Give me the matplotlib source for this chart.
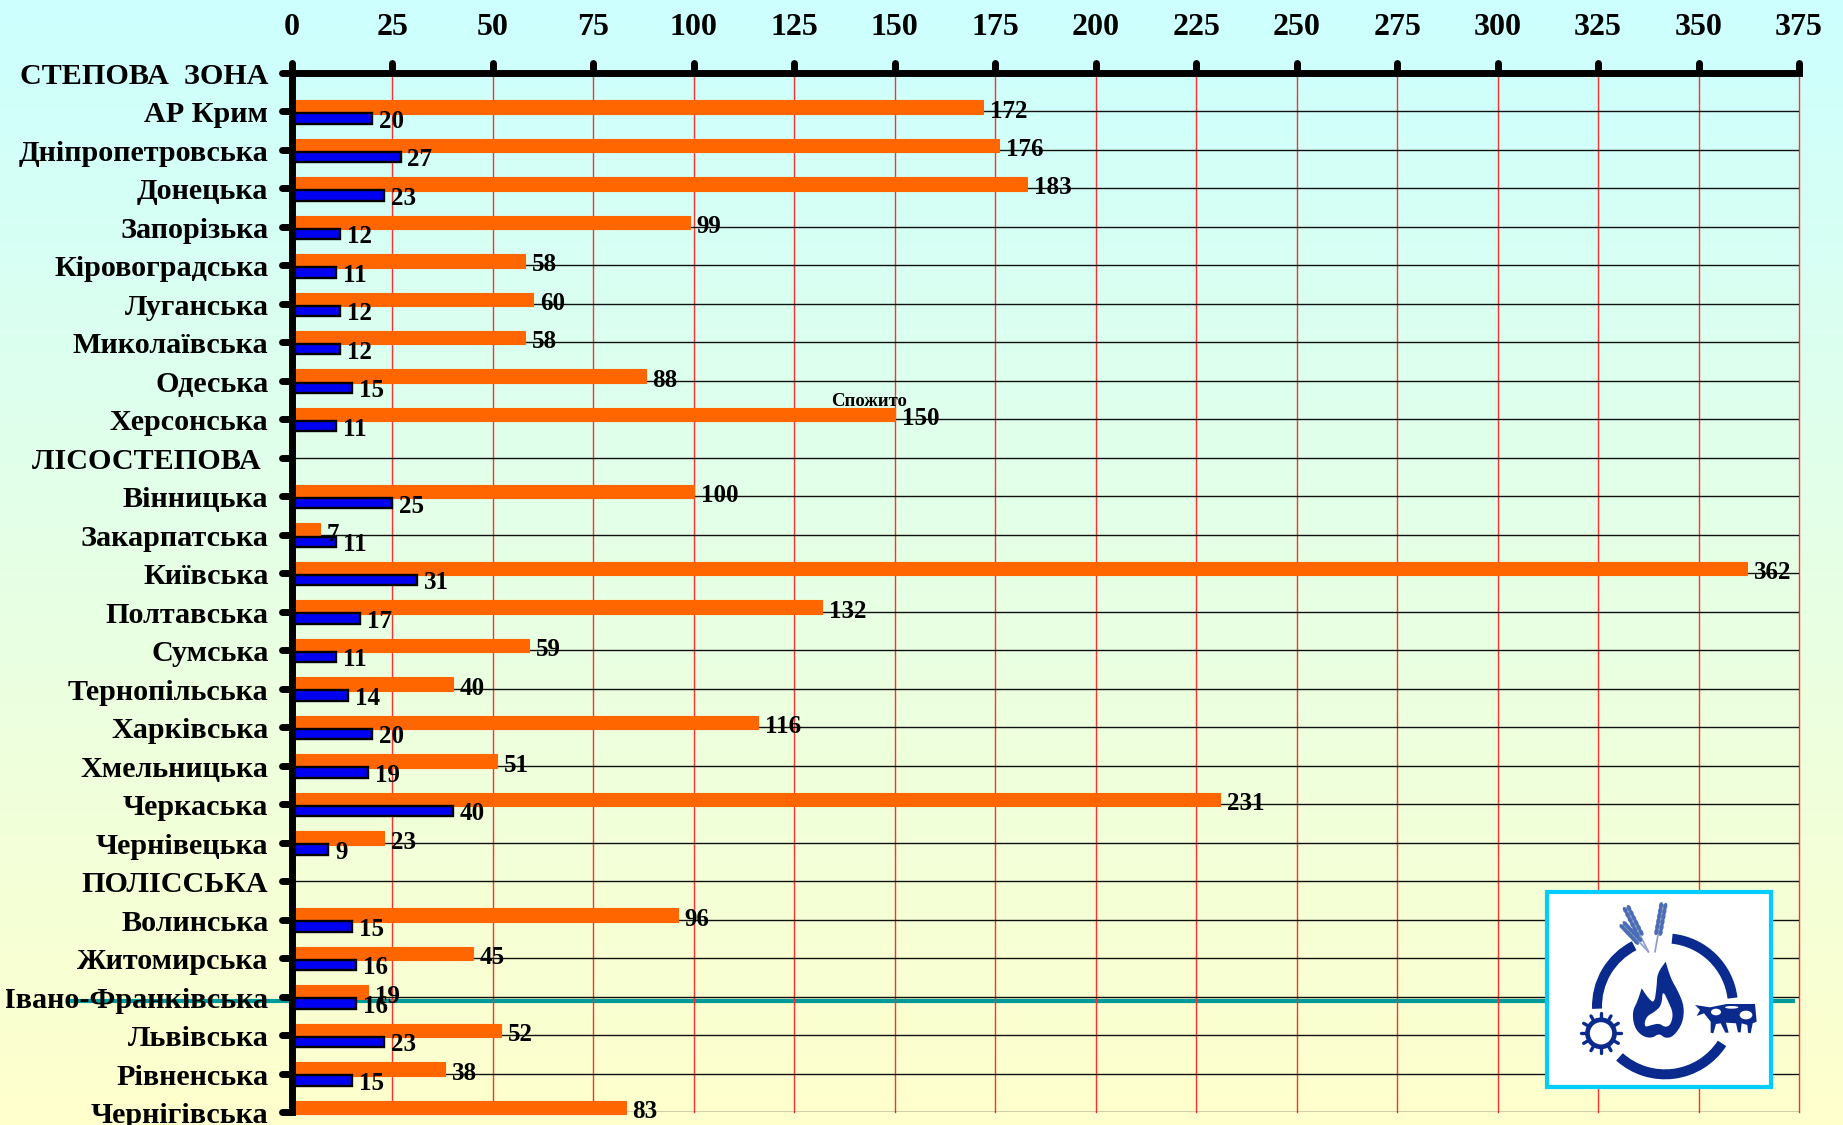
import numpy as np
import matplotlib
matplotlib.use("Agg")
import matplotlib.pyplot as plt
from matplotlib.markers import MarkerStyle, TICKLEFT, TICKUP
from matplotlib.patches import Circle, Ellipse, PathPatch, Polygon, Rectangle, Wedge
from matplotlib.path import Path
from matplotlib.transforms import Bbox, IdentityTransform, ScaledTranslation, TransformedBbox

FW, FH = 1843, 1125

regions = [
    "СТЕПОВА  ЗОНА", "АР Крим", "Дніпропетровська", "Донецька", "Запорізька",
    "Кіровоградська", "Луганська", "Миколаївська", "Одеська", "Херсонська",
    "ЛІСОСТЕПОВА ", "Вінницька", "Закарпатська", "Київська", "Полтавська",
    "Сумська", "Тернопільська", "Харківська", "Хмельницька", "Черкаська",
    "Чернівецька", "ПОЛІССЬКА", "Волинська", "Житомирська", "Івано-Франківська",
    "Львівська", "Рівненська", "Чернігівська",
]
consumed = [
    None, 172, 176, 183, 99, 58, 60, 58, 88, 150,
    None, 100, 7, 362, 132, 59, 40, 116, 51, 231, 23,
    None, 96, 45, 19, 52, 38, 83,
]
second = [
    None, 20, 27, 23, 12, 11, 12, 12, 15, 11,
    None, 25, 11, 31, 17, 11, 14, 20, 19, 40, 9,
    None, 15, 16, 16, 23, 15, None,
]
x_ticks = list(range(0, 376, 25))

ORANGE = "#FF6600"
BLUE = "#0000F0"
NAVY = "#0A2A8E"
SERIF = "Liberation Serif"

fig = plt.figure(figsize=(FW / 100, FH / 100), dpi=100)

# Page background: vertical fade from pale cyan to pale yellow
bg = fig.add_axes([0, 0, 1, 1], zorder=0)
bg.axis("off")
top, bottom = np.array([0.80, 1.0, 1.0]), np.array([1.0, 1.0, 0.80])
fade = np.linspace(0, 1, 256)[:, None, None]
bg.imshow(top * (1 - fade) + bottom * fade, aspect="auto", extent=(0, 1, 0, 1))

# Plot area
L, R, T, B = 292, 1799, 73, 1112
ax = fig.add_axes([L / FW, 1 - B / FH, (R - L) / FW, (B - T) / FH], zorder=1)
ax.patch.set_alpha(0)
ax.set_xlim(0, 375)
ax.set_ylim(27, 0)

idx = np.arange(len(regions))
o_pos = [i for i in idx if consumed[i] is not None]
b_pos = [i for i in idx if second[i] is not None]
o_val = [consumed[i] for i in o_pos]
b_val = [second[i] for i in b_pos]

o_bars = ax.barh(np.array(o_pos) - 0.12, o_val, height=0.35, color=ORANGE,
                 edgecolor=ORANGE, linewidth=0.8, zorder=3, clip_on=False)
b_bars = ax.barh(np.array(b_pos) + 0.18, b_val, height=0.27, color=BLUE,
                 edgecolor="black", linewidth=1.7, zorder=4, clip_on=False)

label_font = dict(family=SERIF, fontweight="bold", fontsize=18, color="black", zorder=6)
for texts, pad, drop in ((ax.bar_label(o_bars, labels=[str(v) for v in o_val], padding=5, **label_font), 5, -3),
                         (ax.bar_label(b_bars, labels=[str(v) for v in b_val], padding=5, **label_font), 5, -2)):
    for t in texts:
        t.xyann = (pad, drop)

ax.text(153, 9 - 0.25, "Спожито", ha="right", va="bottom", family=SERIF,
        fontweight="bold", fontsize=13.5, zorder=6)

# Axes, ticks and grid
ax.xaxis.tick_top()
ax.set_xticks(x_ticks)
ax.set_yticks(idx)
ax.set_yticklabels(regions, family=SERIF, fontweight="bold", fontsize=21.7)
ax.set_xticklabels([str(v) for v in x_ticks], family=SERIF, fontweight="bold", fontsize=23)
ax.tick_params(axis="x", length=7, width=5, pad=15, color="black")
ax.tick_params(axis="y", length=7, width=5, pad=10, color="black")
for t in ax.xaxis.get_major_ticks():
    t.tick2line.set_marker(MarkerStyle(TICKUP, capstyle="round"))
for t in ax.yaxis.get_major_ticks():
    t.tick1line.set_marker(MarkerStyle(TICKLEFT, capstyle="round"))

# Region names sit slightly low and stop a few pixels short of the page edge
nudge = ScaledTranslation(0, -0.5 / 100, fig.dpi_scale_trans)
page_clip = TransformedBbox(Bbox([[6, 0], [FW, FH]]), IdentityTransform())
for lbl in ax.get_yticklabels():
    lbl.set_transform(lbl.get_transform() + nudge)
    lbl.set_clip_box(page_clip)
    lbl.set_clip_on(True)

ax.set_axisbelow(True)
ax.grid(axis="x", color="#FF3030", lw=1.0)
ax.grid(axis="y", color="#111111", lw=1.0)
for line in ax.get_xgridlines():
    line.set_clip_on(False)
for side in ("right", "bottom"):
    ax.spines[side].set_visible(False)
for side in ("top", "left"):
    ax.spines[side].set_linewidth(5)
    ax.spines[side].set_zorder(5)

# Emblem and the teal rule, placed in page pixels
ov = fig.add_axes([0, 0, 1, 1], zorder=2)
ov.set_xlim(0, FW)
ov.set_ylim(FH, 0)
ov.axis("off")
ov.patch.set_alpha(0)

fig.add_artist(plt.Line2D([70 / FW, 1793 / FW], [1 - 1001 / FH] * 2, color="#009A9A", lw=3, zorder=0.5))

ox, oy = 1500, 870
def p(x, y):
    """Emblem drawing units are a third of a page pixel."""
    return ox + x / 3, oy + y / 3

def smooth(points, rounds=2, keep=()):
    """Corner-cut a closed outline, leaving the vertices listed in keep sharp."""
    pts = [np.array(q, float) for q in points]
    sharp = [pts[i].copy() for i in keep]
    for _ in range(rounds):
        out = []
        n = len(pts)
        for i in range(n):
            a, b = pts[i], pts[(i + 1) % n]
            a_sharp = any(np.allclose(a, s) for s in sharp)
            b_sharp = any(np.allclose(b, s) for s in sharp)
            out.append(a if a_sharp else 0.75 * a + 0.25 * b)
            out.append(b if b_sharp else 0.25 * a + 0.75 * b)
        pts = out
    return [tuple(q) for q in pts]

def closed_path(*outlines):
    verts, codes = [], []
    for o in outlines:
        mapped = [p(*v) for v in o]
        verts += mapped + [mapped[0]]
        codes += [Path.MOVETO] + [Path.LINETO] * (len(mapped) - 1) + [Path.CLOSEPOLY]
    return Path(verts, codes)

x0, y0 = p(142, 65)
x1, y1 = p(812, 650)
ov.add_patch(Rectangle((x0, y0), x1 - x0, y1 - y0, fc="white", ec="#00CCFF", lw=3, zorder=5))

cx, cy = p(495, 409)
for a, b in ((-84, -7), (-182, -117), (33, 132)):
    ov.add_patch(Wedge((cx, cy), 73, a, b, width=10, fc=NAVY, ec="none", zorder=6))

# Flame, outer contour and the hollow in it (wound the other way round)
flame = [(497, 275), (512, 325), (535, 365), (553, 410), (548, 460), (520, 500), (495, 505), (478, 490),
         (455, 505), (425, 498), (402, 470), (397, 425), (412, 395), (425, 355), (445, 385), (463, 400),
         (470, 350), (472, 310)]
hollow = [(432, 472), (438, 440), (465, 425), (485, 405), (488, 360), (505, 395), (520, 430), (512, 465),
          (495, 472), (478, 460), (455, 465)][::-1]
ov.add_patch(PathPatch(closed_path(smooth(flame, keep=(0, 13)), smooth(hollow)),
                       fc=NAVY, ec="none", zorder=6))

# Cogwheel
gx, gy = p(303, 490)
for th in np.arange(12) * 2 * np.pi / 12:
    ov.plot([gx + 13 * np.cos(th), gx + 20 * np.cos(th)],
            [gy + 13 * np.sin(th), gy + 20 * np.sin(th)], color=NAVY, lw=2.4,
            solid_capstyle="round", zorder=6)
ov.add_patch(Circle((gx, gy), 13.5, fc="white", ec=NAVY, lw=3.4, zorder=6))

# Cow
cow = [(585, 405), (630, 412), (680, 402), (765, 402), (770, 455), (758, 460), (752, 490), (744, 488), (742, 465),
       (725, 460), (722, 487), (714, 487), (708, 460), (678, 458), (686, 488), (676, 488), (662, 460),
       (648, 462), (640, 490), (632, 488), (632, 455), (612, 430), (590, 438), (600, 420)]
ov.add_patch(Polygon([p(*v) for v in cow], fc=NAVY, ec="none", zorder=6))
for ex, ey, ew, eh in ((648, 426, 30, 20), (738, 435, 38, 26), (695, 412, 40, 8)):
    ov.add_patch(Ellipse(p(ex, ey), ew / 3, eh / 3, fc="white", ec="none", zorder=7))

# Wheat ears: a stalk with grains in pairs along its upper part
WHEAT = "#4A6DB5"
for (sx, sy, ex, ey) in ((445, 245, 380, 115), (445, 245, 370, 165), (465, 245, 490, 105)):
    a, b = p(sx, sy), p(ex, ey)
    ov.plot([a[0], b[0]], [a[1], b[1]], color="#8FA3C8", lw=1.3, zorder=6)
    ang = np.degrees(np.arctan2(b[1] - a[1], b[0] - a[0]))
    normal = np.array([-(b[1] - a[1]), b[0] - a[0]]) / np.hypot(b[0] - a[0], b[1] - a[1])
    for f in np.linspace(0.42, 0.98, 6):
        c = np.array(a) + (np.array(b) - np.array(a)) * f
        for side in (-1, 1):
            ov.add_patch(Ellipse(c + side * 2.2 * normal, 7, 4, angle=ang, fc=WHEAT, ec="none", zorder=6))

fig.savefig("out.png", dpi=100)
